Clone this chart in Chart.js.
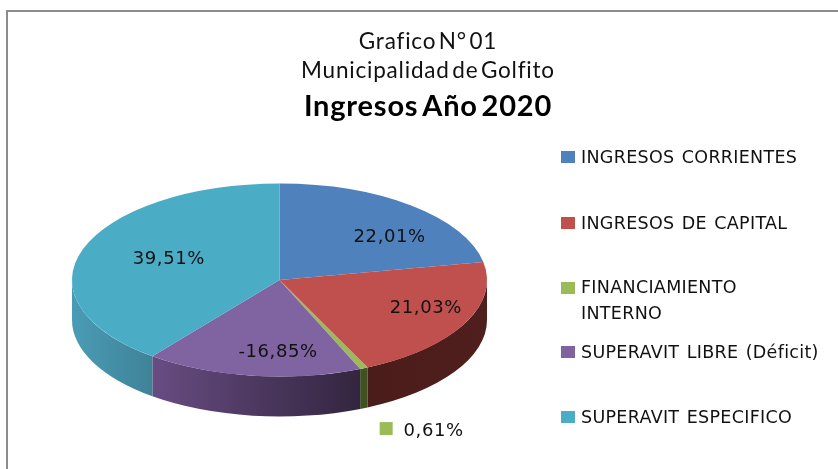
<!DOCTYPE html>
<html>
<head>
<meta charset="utf-8">
<style>
  html, body { margin: 0; padding: 0; background: #fff; overflow: hidden; }
  canvas { display: block; }
</style>
<script src="https://cdn.jsdelivr.net/npm/chart.js@4"></script>
</head>
<body>
<canvas id="ingresos" width="838" height="469"></canvas>
<script>
const titleLines = ["Grafico N° 01", "Municipalidad de Golfito"];
const subtitleText = "Ingresos Año 2020";
const categories = [
  "INGRESOS CORRIENTES",
  "INGRESOS DE CAPITAL",
  "FINANCIAMIENTO INTERNO",
  "SUPERAVIT LIBRE (Déficit)",
  "SUPERAVIT ESPECIFICO",
];
const values = [22.01, 21.03, 0.61, -16.85, 39.51];
const colors = ["#4f81bd", "#c0504d", "#9bbb59", "#8064a2", "#4bacc6"];
const wallColors = [
  ["#3a5f8c", "#3a5f8c"],
  ["#4f1f1d", "#4a1c1a"],
  ["#3f5220", "#3f5220"],
  ["#33253f", "#674c82"],
  ["#3f8298", "#4a9cb5"],
];

// layout of the page
const pie = { x: 279.5, y: 280, radius: 207.5, squash: 0.465, depth: 40 };
const legendX = 561;
const legendRows = [157, 223, 288, 352, 417];
const labelOffsets = [[44, -6], [54, 6], [112, 107], [12, 24], [-12.5, -5]];

const labelText = (v) => v.toFixed(2).replace(".", ",") + "%";

const frame = {
  id: "frame",
  beforeDraw(chart) {
    const ctx = chart.ctx;
    ctx.save();
    ctx.strokeStyle = "#8c8c8c";
    ctx.lineWidth = 2;
    ctx.beginPath();
    ctx.moveTo(7, 469);
    ctx.lineTo(7, 11);
    ctx.lineTo(838, 11);
    ctx.stroke();
    ctx.restore();
    // title text in the picture is wide with tight word gaps
    ctx.letterSpacing = "0.8px";
    ctx.wordSpacing = "-4px";
  },
};

// squashes the round pie into an ellipse and gives it a side wall
const tilt = {
  id: "tilt",
  beforeDatasetsDraw(chart) {
    const ctx = chart.ctx;
    const arcs = chart.getDatasetMeta(0).data;
    const ry = pie.radius * pie.squash;
    ctx.letterSpacing = "0px";
    ctx.wordSpacing = "0px";
    ctx.save();
    arcs.forEach((arc, i) => {
      const a0 = Math.max(arc.startAngle, 0);
      const a1 = Math.min(arc.endAngle, Math.PI);
      if (a1 <= a0) return;
      const grad = ctx.createLinearGradient(
        pie.x + pie.radius * Math.cos(a1), 0,
        pie.x + pie.radius * Math.cos(a0), 0
      );
      grad.addColorStop(0, wallColors[i][1]);
      grad.addColorStop(1, wallColors[i][0]);
      ctx.fillStyle = grad;
      ctx.beginPath();
      ctx.ellipse(pie.x, pie.y, pie.radius, ry, 0, a0, a1);
      ctx.ellipse(pie.x, pie.y + pie.depth, pie.radius, ry, 0, a1, a0, true);
      ctx.closePath();
      ctx.fill();
    });
    ctx.restore();
    ctx.save();
    ctx.translate(pie.x, pie.y);
    ctx.scale(1, pie.squash);
    ctx.translate(-arcs[0].x, -arcs[0].y);
  },
  afterDatasetsDraw(chart) {
    chart.ctx.restore();
  },
};

const sliceLabels = {
  id: "sliceLabels",
  afterDatasetsDraw(chart) {
    const ctx = chart.ctx;
    const arcs = chart.getDatasetMeta(0).data;
    ctx.save();
    ctx.font = "18px 'DejaVu Sans'";
    ctx.letterSpacing = "0.6px";
    ctx.fillStyle = "#111";
    ctx.textAlign = "center";
    ctx.textBaseline = "middle";
    arcs.forEach((arc, i) => {
      const mid = (arc.startAngle + arc.endAngle) / 2;
      const r = pie.radius / 2;
      const x = pie.x + r * Math.cos(mid) + labelOffsets[i][0];
      const y = pie.y + r * pie.squash * Math.sin(mid) + labelOffsets[i][1];
      ctx.fillText(labelText(values[i]), x, y);
      // the small slice keeps its colour key next to the label
      if (Math.abs(values[i]) < 1) {
        ctx.fillStyle = colors[i];
        ctx.fillRect(x - 54, y - 9, 13, 13);
        ctx.fillStyle = "#111";
      }
    });
    ctx.restore();
  },
};

const sideLegend = {
  id: "sideLegend",
  afterDraw(chart) {
    const ctx = chart.ctx;
    ctx.save();
    ctx.font = "17.5px 'DejaVu Sans'";
    ctx.letterSpacing = "0.3px";
    ctx.wordSpacing = "1.5px";
    ctx.textBaseline = "middle";
    categories.forEach((name, i) => {
      const y = legendRows[i];
      ctx.fillStyle = colors[i];
      ctx.fillRect(legendX, y - 6, 14, 12);
      ctx.fillStyle = "#111";
      if (name === "FINANCIAMIENTO INTERNO") {
        const parts = name.split(" ");
        ctx.fillText(parts[0], legendX + 20, y);
        ctx.fillText(parts[1], legendX + 20, y + 26);
      } else {
        ctx.fillText(name, legendX + 20, y + 1);
      }
    });
    ctx.restore();
  },
};

const ctx = document.getElementById("ingresos").getContext("2d");
new Chart(ctx, {
  type: "pie",
  data: {
    labels: categories,
    datasets: [
      {
        data: values,
        backgroundColor: colors,
        borderWidth: 0,
        radius: pie.radius,
        clip: false,
      },
    ],
  },
  options: {
    responsive: false,
    animation: false,
    events: [],
    layout: { padding: { left: 18, top: 27 } },
    plugins: {
      legend: { display: false },
      tooltip: { enabled: false },
      title: {
        display: true,
        text: titleLines,
        color: "#111",
        font: { family: "Lato", size: 22.5, weight: "normal", lineHeight: 1.29 },
        padding: 0,
      },
      subtitle: {
        display: true,
        text: subtitleText,
        color: "#000",
        font: { family: "Lato", size: 29, weight: "bold", lineHeight: 1.2 },
        padding: { top: 4, bottom: 0 },
      },
    },
  },
  plugins: [frame, tilt, sliceLabels, sideLegend],
});
</script>
</body>
</html>
